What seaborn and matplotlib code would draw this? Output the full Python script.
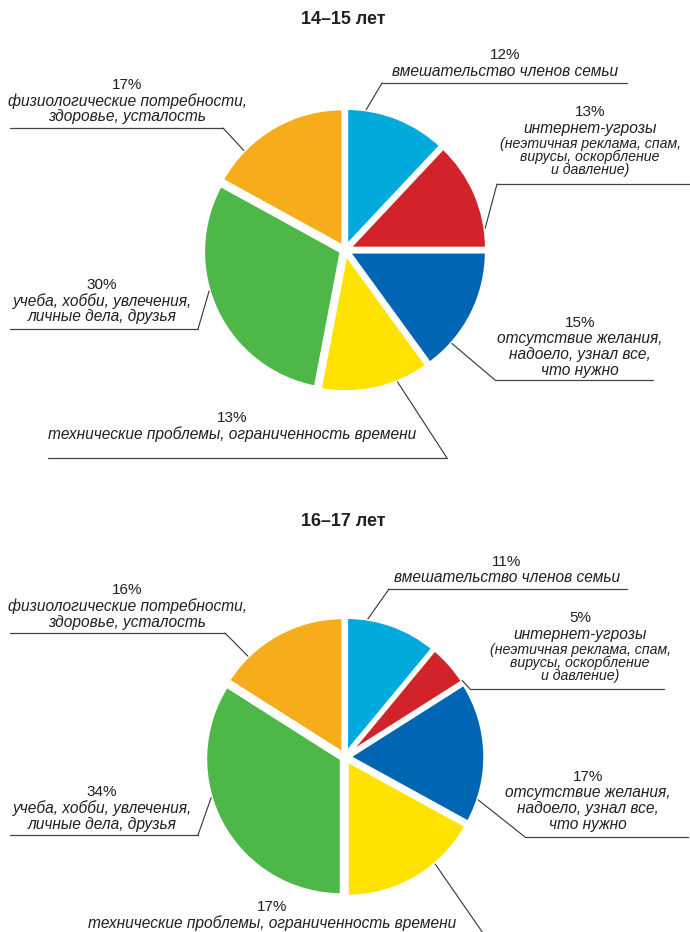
import numpy as np
import matplotlib.pyplot as plt
import seaborn as sns

sns.set_theme(style="white")
plt.rcParams["font.family"] = ["Liberation Sans", "DejaVu Sans"]

# данные
titles = ["14–15 лет", "16–17 лет"]
age_14_15 = [12, 13, 15, 13, 30, 17]
age_16_17 = [11, 5, 17, 17, 34, 16]
cat_lines = [
    ["вмешательство членов семьи"],
    ["интернет-угрозы"],
    ["отсутствие желания,", "надоело, узнал все,", "что нужно"],
    ["технические проблемы, ограниченность времени"],
    ["учеба, хобби, увлечения,", "личные дела, друзья"],
    ["физиологические потребности,", "здоровье, усталость"],
]
internet_note = ["(неэтичная реклама, спам,", "вирусы, оскорбление", "и давление)"]
colors = ["#00AADD", "#D2232A", "#0066B3", "#FFE200", "#4DB748", "#F7AD1B"]

H = 932
def Y(p):
    return H - p

# раскладка: (cx, y процента, линия x0, x1, y, конец линии, доля в секторе)
layouts = [
    dict(center=(345, 250), r=138, title_y=20,
         labels=[(505, 55, 382, 627, 83, "l", 0.19),
                 (590, 112, 497, 690, 184, "l", 0.82),
                 (580, 323, 495, 653, 380, "l", 0.77),
                 (232, 418, 48, 447, 458, "r", 0.30),
                 (102, 285, 10, 198, 329, "r", 0.58),
                 (127, 85, 10, 223, 128, "r", 0.25)]),
    dict(center=(345, 757), r=136, title_y=521,
         labels=[(507, 562, 389, 627, 589, "l", 0.23),
                 (580, 618, 470, 664, 689, "l", 0.97),
                 (588, 777, 525, 688, 837, "l", 0.83),
                 (272, 907, None, None, None, "y", 0.34),
                 (102, 792, 10, 198, 835, "r", 0.60),
                 (127, 590, 10, 225, 633, "r", 0.23)]),
]

fig = plt.figure(figsize=(6.9, 9.32), dpi=100)
ax = fig.add_axes([0, 0, 1, 1])
txt = "#231F20"

for vals, title, lay in zip([age_14_15, age_16_17], titles, layouts):
    cx, cy = lay["center"]
    wedges, _ = ax.pie(vals, colors=colors, startangle=90, counterclock=False,
                       radius=lay["r"], center=(cx, Y(cy)), explode=[4] * len(vals),
                       wedgeprops=dict(edgecolor="white", linewidth=2.5))
    ax.text(cx - 2, Y(lay["title_y"]), title, ha="center", va="center",
            fontsize=13, fontweight="bold", color=txt)
    for i, (w, v, lab) in enumerate(zip(wedges, vals, lay["labels"])):
        tx, ty, x0, x1, ly, side, f = lab
        ax.text(tx, Y(ty), f"{v}%", ha="center", va="center", fontsize=11, color=txt)
        yy = ty
        for line in cat_lines[i]:
            yy += 16
            ax.text(tx, Y(yy), line, ha="center", va="center", fontsize=11.2,
                    style="italic", color=txt)
        if i == 1:
            ax.text(tx, Y(yy + 29), "\n".join(internet_note), ha="center", va="center",
                    fontsize=10.2, style="italic", color=txt, linespacing=0.86)
        # точка на краю сектора
        ang = np.deg2rad(w.theta2 - f * (w.theta2 - w.theta1))
        wx, wy = w.center
        tip = (wx + w.r * np.cos(ang), wy + w.r * np.sin(ang))
        if side == "y":
            start = (485, Y(936))
        else:
            ax.plot([x0, x1], [Y(ly), Y(ly)], color="#444444", lw=0.9)
            start = (x0, Y(ly)) if side == "l" else (x1, Y(ly))
        ax.plot([start[0], tip[0]], [start[1], tip[1]], color="#333333", lw=0.8)

ax.set_xlim(0, 690)
ax.set_ylim(0, H)
ax.set_aspect("equal")
ax.axis("off")

fig.savefig("out.png", dpi=100, facecolor="white")
